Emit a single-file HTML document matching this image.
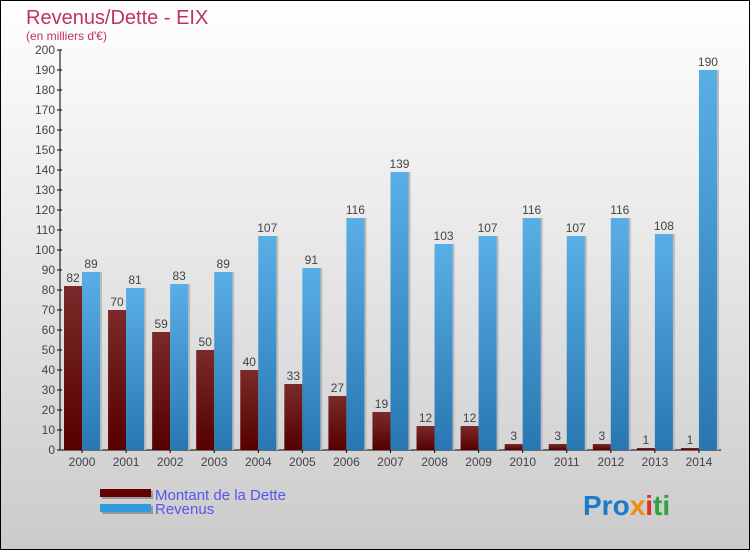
<!DOCTYPE html>
<html><head><meta charset="utf-8"><style>
body{margin:0}
svg{display:block;font-family:"Liberation Sans",sans-serif}
</style></head><body>
<svg width="750" height="550" viewBox="0 0 750 550">
<defs>
<linearGradient id="bg" x1="0" y1="0" x2="0" y2="1"><stop offset="0" stop-color="#ffffff"/><stop offset="1" stop-color="#cbcbcb"/></linearGradient>
<linearGradient id="gd" x1="0" y1="0" x2="0" y2="1"><stop offset="0" stop-color="#7a2a2a"/><stop offset="1" stop-color="#560000"/></linearGradient>
<linearGradient id="gr" x1="0" y1="0" x2="0" y2="1"><stop offset="0" stop-color="#5aaee6"/><stop offset="1" stop-color="#2877b2"/></linearGradient>
</defs>
<rect x="0.5" y="0.5" width="749" height="549" fill="url(#bg)" stroke="#000"/>
<text x="26" y="24" font-size="20" fill="#c0306a">Revenus/Dette - EIX</text>
<text x="26" y="40" font-size="12" fill="#c0306a">(en milliers d'€)</text>
<g id="axes"></g>
<g id="bars"></g>
<rect x="102" y="491" width="51" height="8" fill="#999"/>
<rect x="100" y="489" width="51" height="8" fill="#660000"/>
<text x="155" y="500" font-size="15" fill="#5555ee">Montant de la Dette</text>
<rect x="102" y="506" width="51" height="8" fill="#999"/>
<rect x="100" y="504" width="51" height="8" fill="#3399dd"/>
<text x="155" y="514" font-size="15" fill="#5555ee">Revenus</text>
<text x="583" y="515" font-size="28" font-weight="bold"><tspan fill="#1a7acc">Pro</tspan><tspan fill="#f08a10">x</tspan><tspan fill="#e03020">i</tspan><tspan fill="#30a040">ti</tspan></text>
</svg>
<script>
const categories=["2000","2001","2002","2003","2004","2005","2006","2007","2008","2009","2010","2011","2012","2013","2014"];
const dette=[82,70,59,50,40,33,27,19,12,12,3,3,3,1,1];
const revenus=[89,81,83,89,107,91,116,139,103,107,116,107,116,108,190];
const yTicks=[0,10,20,30,40,50,60,70,80,90,100,110,120,130,140,150,160,170,180,190,200];
const NS="http://www.w3.org/2000/svg";
const X0=60,X1=721,Y0=450,Y1=50,YMAX=200;
const step=(X1-X0)/categories.length;
function y(v){return Y0-(v/YMAX)*(Y0-Y1);}
function xc(i){return X0+step*i;}
function mk(tag,attrs,parent){const e=document.createElementNS(NS,tag);for(const k in attrs)e.setAttribute(k,attrs[k]);parent.appendChild(e);return e;}
const ax=document.getElementById('axes'),bg=document.getElementById('bars');
let l=mk('line',{x1:X0,y1:Y1,x2:X0,y2:Y0,stroke:'#000'},ax);


l=mk('line',{x1:X0,y1:Y0,x2:X1,y2:Y0,stroke:'#000'},ax);


yTicks.forEach(t=>{
 const tk=mk('line',{x1:X0-3,x2:X0+2,y1:y(t),y2:y(t),stroke:'#000'},ax);
 
 
 const tx=mk('text',{x:X0-5,y:y(t)+4,'font-size':12,fill:'#444','text-anchor':'end'},ax);
 tx.textContent=t;
 
 
});
categories.forEach((c,i)=>{
 const x=xc(i);
 const tk=mk('line',{x1:x+step/2,x2:x+step/2,y1:Y0,y2:Y0+3,stroke:'#000'},ax);
 
 
 const tx=mk('text',{x:x+step/2,y:Y0+16,'font-size':12,fill:'#444','text-anchor':'middle'},ax);
 tx.textContent=c;
 
 
 [[dette[i],'url(#gd)',x+4,'bar-dette-'+c],[revenus[i],'url(#gr)',x+22,'bar-revenus-'+c]].forEach(([v,f,bx,nm])=>{
  const sh=mk('rect',{x:bx+2,y:y(v),width:18,height:Y0-y(v),fill:'#bbb'},bg);
  
  
  const r=mk('rect',{x:bx,y:y(v),width:18,height:Y0-y(v),fill:f},bg);
  
  
  const t=mk('text',{x:bx+9,y:y(v)-4,'font-size':12,fill:'#444','text-anchor':'middle'},bg);
  t.textContent=v;
  
  
 });
});
</script>
</body></html>
